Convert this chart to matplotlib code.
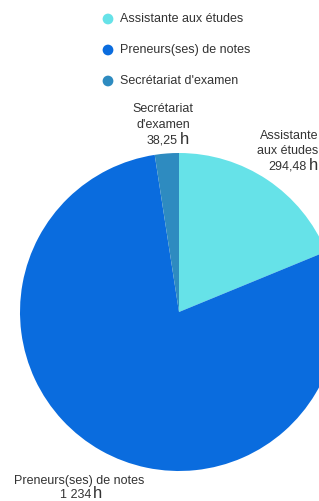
import matplotlib
matplotlib.use("Agg")
import matplotlib.pyplot as plt

categories = ["Assistante aux études", "Preneurs(ses) de notes", "Secrétariat d'examen"]
values = [294.48, 1234, 38.25]
value_labels = ["294,48", "1 234", "38,25"]
colors = ["#66E2E8", "#0A6CDE", "#2E8BC0"]

plt.rcParams['font.family'] = ['Liberation Sans', 'DejaVu Sans']
W, H = 319, 501
fig = plt.figure(figsize=(W/100, H/100), dpi=100)
ax = fig.add_axes([0, 0, 1, 1])

cx, cy, r = 179, H - 312, 159
ax.pie(values, colors=colors, startangle=90, counterclock=False,
       center=(cx, cy), radius=r, frame=True,
       wedgeprops=dict(linewidth=0))
ax.set_xlim(0, W)
ax.set_ylim(0, H)
ax.axis('off')

tc = "#333333"
fs = 9
# legend
ly = [19, 50, 81]
for cat, col, y in zip(categories, colors, ly):
    ax.scatter([108], [H - y], s=60, color=col, edgecolors='none', zorder=5)
    ax.text(120, H - y, cat, fontsize=fs, color=tc, va='center', ha='left')

def lab(x, ys, lines, val, hx, ha='center'):
    for line, y in zip(lines, ys):
        ax.text(x, H - y, line, fontsize=fs, color=tc, ha=ha, va='center')
    yv = ys[len(lines)]
    ax.text(hx, H - yv, val, fontsize=fs, color=tc, ha='right', va='center')
    ax.text(hx + 2, H - yv + 1, "h", fontsize=12, color=tc, ha='left', va='center')

lab(163, [109, 125, 140], ["Secrétariat", "d'examen"], "38,25", 178)
lab(318, [136, 151, 166], ["Assistante", "aux études"], "294,48", 307, ha='right')
lab(79, [481, 495], ["Preneurs(ses) de notes"], "1 234", 91)

fig.savefig("out.png", dpi=100)
